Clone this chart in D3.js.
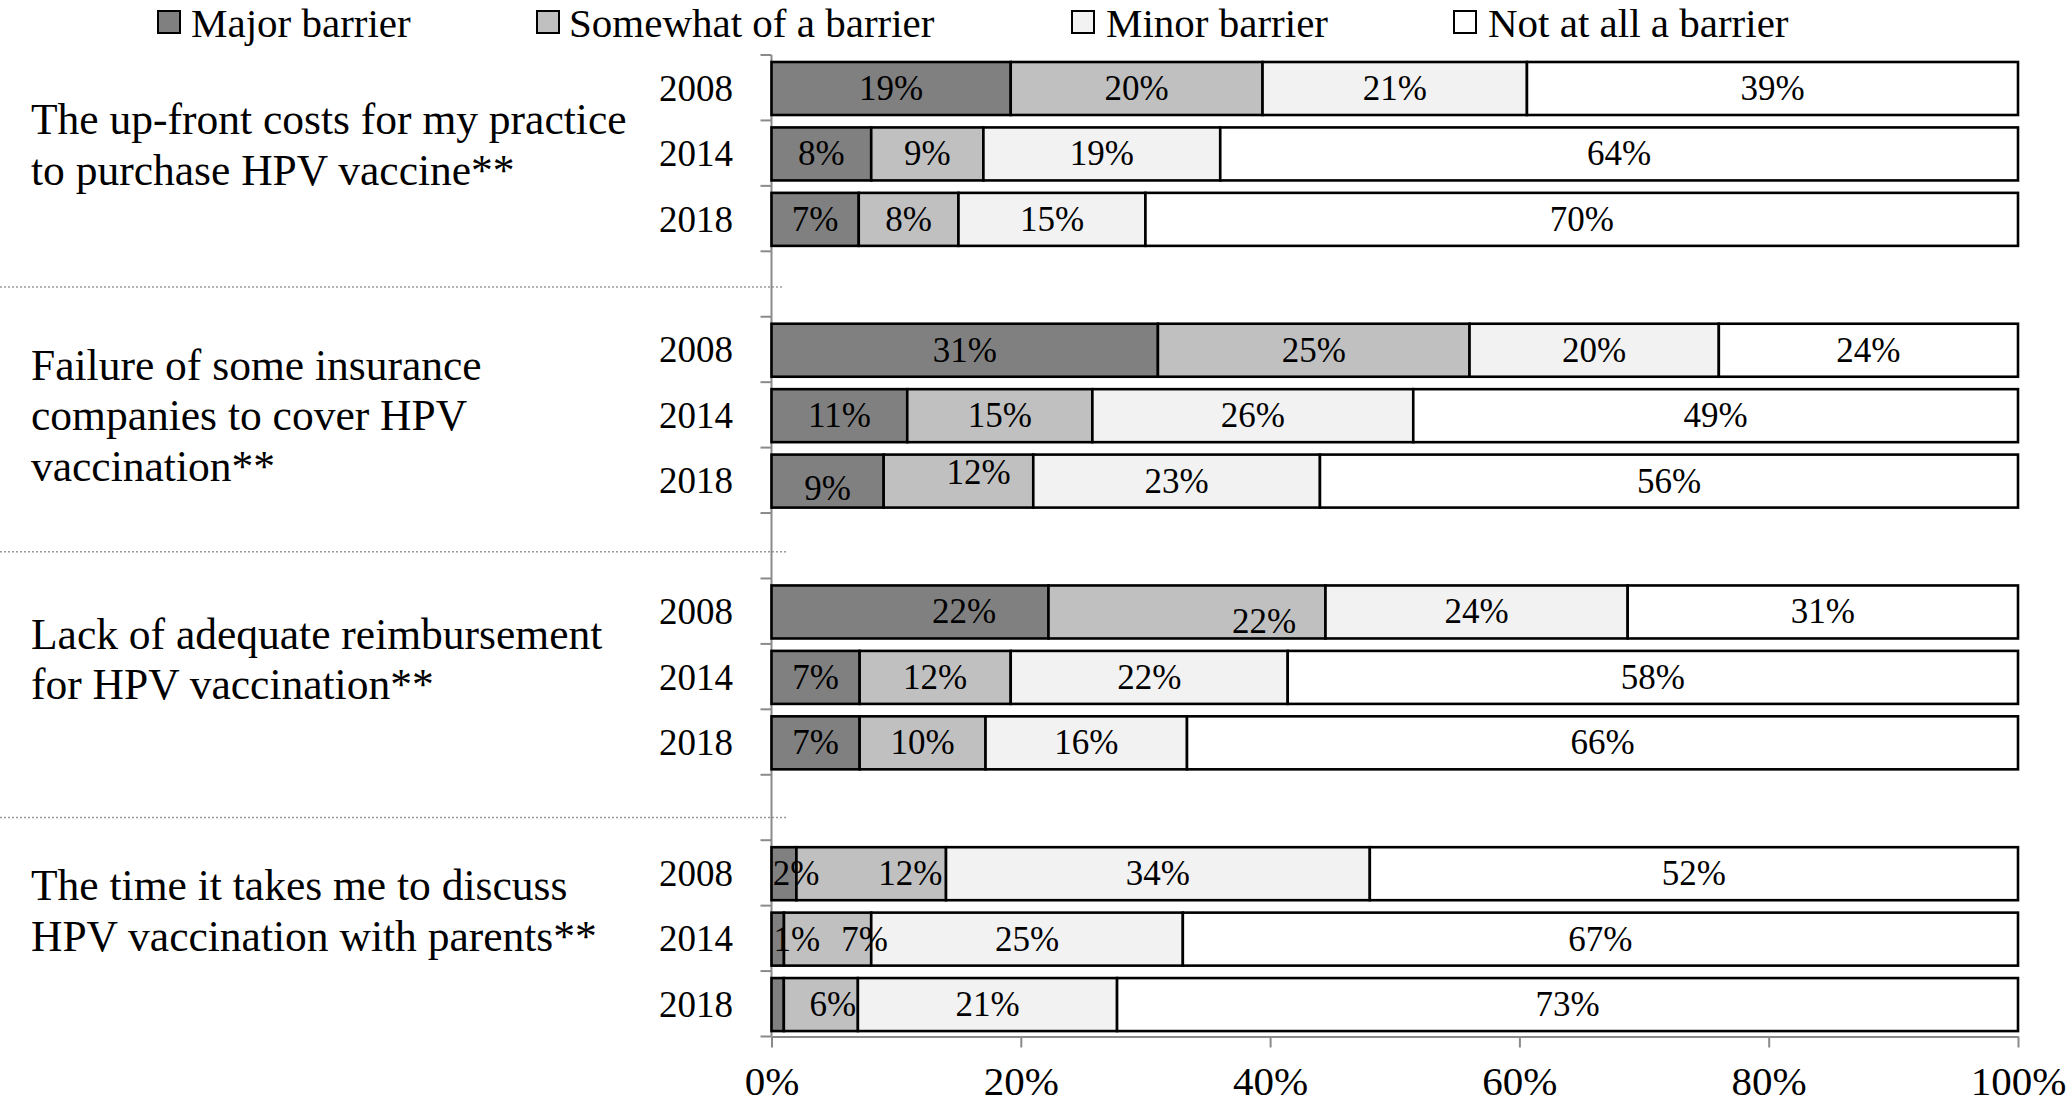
<!DOCTYPE html>
<html><head><meta charset="utf-8">
<script src="https://cdn.jsdelivr.net/npm/d3@7"></script>
<style>
body{margin:0;background:#fff}
svg{display:block}
text{font-family:"Liberation Serif","Times New Roman",serif;fill:#000}
</style>
</head><body>
<svg id="chart" width="2070" height="1105"></svg>
<script>
// ---------------- DATA ----------------
const categories = [
  "The up-front costs for my practice\nto purchase HPV vaccine**",
  "Failure of some insurance\ncompanies to cover HPV\nvaccination**",
  "Lack of adequate reimbursement\nfor HPV vaccination**",
  "The time it takes me to discuss\nHPV vaccination with parents**"
];
const years = ["2008", "2014", "2018"];
const seriesNames = ["Major barrier", "Somewhat of a barrier", "Minor barrier", "Not at all a barrier"];
// order: cat0-2008, cat0-2014, cat0-2018, cat1-2008, ...
const majorBarrier    = [19, 8, 7, 31, 11, 9, 22, 7, 7, 2, 1, 1];
const somewhatBarrier = [20, 9, 8, 25, 15, 12, 22, 12, 10, 12, 7, 6];
const minorBarrier    = [21, 19, 15, 20, 26, 23, 24, 22, 16, 34, 25, 21];
const notBarrier      = [39, 64, 70, 24, 49, 56, 31, 58, 66, 52, 67, 73];
const xTicks = [0, 0.2, 0.4, 0.6, 0.8, 1];

// ---------------- STYLE / LAYOUT ----------------
const colors = ["#808080", "#c0c0c0", "#f2f2f2", "#ffffff"];
const legendBoxX = [158, 537, 1072, 1454];
const legendTextX = [191, 569, 1106, 1488];
const labelShiftY = [-9, 0, -18, -28];
const sepShift = [3, 6, 10];
const sepEnd = [783, 788, 788];
const labelAdjust = {
  "3-2-0": {hide: true},
  "2-0-0": {dx: 54},
  "2-0-1": {dx: 77, dy: 10},
  "3-0-0": {dx: 12},
  "3-0-1": {dx: 39},
  "3-1-0": {dx: 19},
  "3-1-1": {dx: 37},
  "3-2-1": {dx: 12},
  "1-2-1": {dx: 20, dy: -9},
  "1-2-0": {dy: 7}
};

const svg = d3.select("#chart");
const seriesValues = [majorBarrier, somewhatBarrier, minorBarrier, notBarrier];

const slots = [];
categories.forEach((c, ci) => {
  years.forEach(yr => slots.push(ci + "-" + yr));
  if (ci < categories.length - 1) slots.push("gap" + ci);
});

const rows = [];
categories.forEach((c, ci) => {
  years.forEach((yr, yi) => {
    const r = {key: ci + "-" + yr, ci, yi};
    seriesNames.forEach((s, si) => r[s] = seriesValues[si][ci * years.length + yi]);
    rows.push(r);
  });
});

const stacked = d3.stack().keys(seriesNames).offset(d3.stackOffsetExpand)(rows);

const x = d3.scaleLinear().domain([0, 1]).range([771.5, 2018]);
const y = d3.scaleBand().domain(slots).range([55, 1036.5]);
const step = y.step();

const axisColor = "#8a8a8a";

// separators
svg.append("g").selectAll("line").data(categories.slice(0, -1)).join("line")
  .attr("x1", 0).attr("x2", (d, i) => sepEnd[i])
  .attr("y1", (d, i) => y("gap" + i) + step / 2 + sepShift[i])
  .attr("y2", (d, i) => y("gap" + i) + step / 2 + sepShift[i])
  .attr("stroke", "#9a9a9a").attr("stroke-width", 1.5).attr("stroke-dasharray", "2,2");

// y axis line & ticks
const yAxisG = svg.append("g");
yAxisG.append("line").attr("x1", x(0)).attr("x2", x(0)).attr("y1", y.range()[0]).attr("y2", y.range()[1])
  .attr("stroke", axisColor).attr("stroke-width", 2);
const tickYs = slots.map(k => y(k)).concat([y.range()[1]]);
yAxisG.selectAll("line.t").data(tickYs).join("line").attr("class", "t")
  .attr("x1", x(0) - 11).attr("x2", x(0)).attr("y1", d => d).attr("y2", d => d)
  .attr("stroke", axisColor).attr("stroke-width", 2);

// x axis
const xAxis = d3.axisBottom(x).tickValues(xTicks).tickFormat(d3.format(".0%")).tickSize(11).tickSizeOuter(0);
const xg = svg.append("g").attr("transform", `translate(0,${y.range()[1]})`).call(xAxis);
xg.select(".domain").attr("stroke", axisColor).attr("stroke-width", 2);
xg.selectAll(".tick line").attr("stroke", axisColor).attr("stroke-width", 2);
xg.selectAll(".tick text").attr("y", 44).attr("dy", "0.35em")
  .style("font-family", '"Liberation Serif","Times New Roman",serif').style("font-size", "41px").attr("fill", "#000");

// bars
const barTop = 7, barH = 53;
const layers = svg.append("g").selectAll("g").data(stacked).join("g")
  .attr("fill", (d, i) => colors[i]);
layers.selectAll("rect").data(d => d).join("rect")
  .attr("x", d => x(d[0]))
  .attr("width", d => x(d[1]) - x(d[0]))
  .attr("y", d => y(d.data.key) + barTop)
  .attr("height", barH)
  .attr("stroke", "#000").attr("stroke-width", 2.6);

// data labels
const labelG = svg.append("g");
stacked.forEach((layer, si) => {
  layer.forEach(d => {
    const k = d.data.ci + "-" + d.data.yi + "-" + si;
    const adj = labelAdjust[k] || {};
    if (adj.hide) return;
    labelG.append("text")
      .attr("x", (x(d[0]) + x(d[1])) / 2 + (adj.dx || 0))
      .attr("y", y(d.data.key) + step / 2 + (adj.dy || 0))
      .attr("dy", "0.35em").attr("text-anchor", "middle")
      .style("font-size", "35px")
      .text(d.data[seriesNames[si]] + "%");
  });
});

// year labels
svg.append("g").selectAll("text").data(rows).join("text")
  .attr("x", 733).attr("y", d => y(d.key) + step / 2).attr("dy", "0.35em")
  .attr("text-anchor", "end").style("font-size", "37px").text(d => years[d.yi]);

// category labels
const lineH = 50.5;
categories.forEach((c, ci) => {
  const lines = c.split("\n");
  const center = (y(ci + "-" + years[0]) + y(ci + "-" + years[years.length - 1]) + step) / 2 + labelShiftY[ci];
  const t = svg.append("text").style("font-size", "43.5px");
  lines.forEach((ln, li) => {
    t.append("tspan").attr("x", 31)
      .attr("y", center + (li - (lines.length - 1) / 2) * lineH)
      .attr("dy", "0.35em").text(ln);
  });
});

// legend
const lg = svg.append("g");
seriesNames.forEach((s, i) => {
  lg.append("rect").attr("x", legendBoxX[i]).attr("y", 11).attr("width", 22).attr("height", 22)
    .attr("fill", colors[i]).attr("stroke", "#000").attr("stroke-width", 2);
  lg.append("text").attr("x", legendTextX[i]).attr("y", 23).attr("dy", "0.35em")
    .style("font-size", "41px").text(s);
});
</script>
</body></html>
